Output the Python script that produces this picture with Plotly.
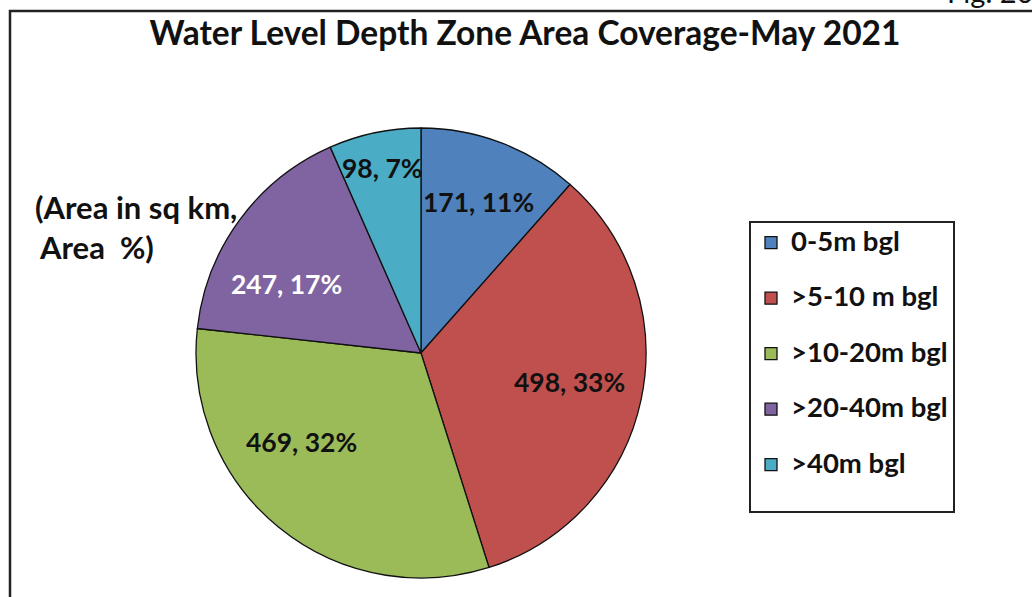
import math
import plotly.graph_objects as go

# ---- data ----
zones = ["0-5m bgl", ">5-10 m bgl", ">10-20m bgl", ">20-40m bgl", ">40m bgl"]
area_sqkm = [171, 498, 469, 247, 98]
area_pct = [11, 33, 32, 17, 7]
colors = ["#4F81BD", "#C0504D", "#9BBB59", "#8064A2", "#4BACC6"]
label_colors = ["#111111", "#111111", "#111111", "#FFFFFF", "#111111"]

# label placement tweaks (radial fraction, angle nudge in degrees)
label_rfrac = [0.72, 0.67, 0.66, 0.67, 0.84]
label_dang = [0, -1, 14, -9, 0]

W, H = 1032, 597
FONT = "Lato"

# pie geometry in pixels
cx_px, cy_px, r_px = 421, 353, 225
dom_x = [(cx_px - r_px) / W, (cx_px + r_px) / W]
dom_y = [1 - (cy_px + r_px) / H, 1 - (cy_px - r_px) / H]

# two-line legend entries (second line blank) give the wide row spacing
legend_labels = [f'<span style="font-size:27.5px"><b>{z}</b></span><br> ' for z in zones]

fig = go.Figure()
fig.add_trace(go.Pie(
    labels=legend_labels,
    values=area_sqkm,
    sort=False,
    direction="clockwise",
    rotation=0,
    marker=dict(colors=colors, line=dict(color="#111111", width=1.3)),
    textinfo="none",
    hoverinfo="value+percent",
    domain=dict(x=dom_x, y=dom_y),
    showlegend=True,
))

annotations = []
total = sum(area_sqkm)
cum = 0
for v, p, c, rf, da in zip(area_sqkm, area_pct, label_colors, label_rfrac, label_dang):
    mid = (cum + v / 2) / total * 360 + da
    cum += v
    th = math.radians(mid)
    x_px = cx_px + rf * r_px * math.sin(th)
    y_px = cy_px - rf * r_px * math.cos(th)
    annotations.append(dict(
        x=x_px / W, y=1 - y_px / H, xref="paper", yref="paper",
        text=f"<b>{v}, {p}%</b>", showarrow=False,
        font=dict(family=FONT, size=26.5, color=c),
        xanchor="center", yanchor="middle",
    ))

# side note
annotations.append(dict(x=33 / W, y=1 - 207 / H, xref="paper", yref="paper",
                        text="<b>(Area in sq km,</b>", showarrow=False,
                        font=dict(family=FONT, size=31, color="#111111"),
                        xanchor="left", yanchor="middle"))
annotations.append(dict(x=37 / W, y=1 - 247 / H, xref="paper", yref="paper",
                        text="<b>Area  %)</b>", showarrow=False,
                        font=dict(family=FONT, size=31, color="#111111"),
                        xanchor="left", yanchor="middle"))
# partially visible figure number at top right (cut by the page edge as in the source)
annotations.append(dict(x=945 / W, y=1 + 9 / H, xref="paper", yref="paper",
                        text="Fig. 20", showarrow=False,
                        font=dict(family=FONT, size=29, color="#111111"),
                        xanchor="left", yanchor="middle"))

fig.update_layout(
    width=W, height=H,
    margin=dict(l=0, r=0, t=0, b=0),
    paper_bgcolor="white",
    plot_bgcolor="white",
    title=dict(text="<b>Water Level Depth Zone Area Coverage-May 2021</b>",
               x=525 / W, y=1 - 33 / H, xanchor="center", yanchor="middle",
               font=dict(family=FONT, size=33.5, color="#111111")),
    legend=dict(
        x=749 / W, y=1 - 221 / H, xanchor="left", yanchor="top",
        font=dict(family=FONT, size=20.2, color="#111111"),
        bordercolor="#222222", borderwidth=2, bgcolor="white",
        traceorder="normal", valign="top",
    ),
    annotations=annotations,
    shapes=[dict(type="rect", xref="paper", yref="paper",
                 x0=10 / W, x1=1.05, y0=-0.05, y1=1 - 11 / H,
                 line=dict(color="#222222", width=2.5), fillcolor="rgba(0,0,0,0)",
                 layer="below")],
)

fig.write_html("out.html", config={"displayModeBar": False},
               post_script="document.body.style.margin='0px';")
